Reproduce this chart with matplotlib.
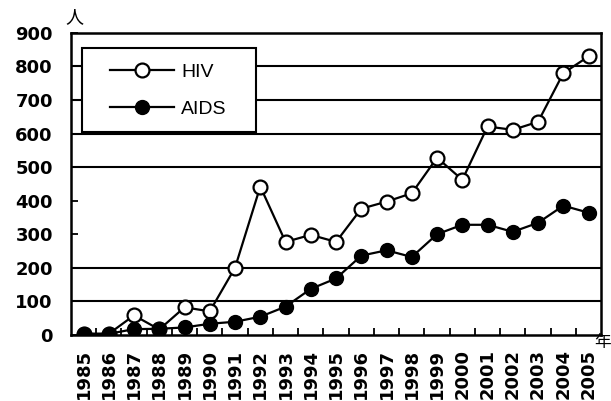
import matplotlib
matplotlib.use('Agg')
import matplotlib.pyplot as plt
from matplotlib.patches import Rectangle
import numpy as np

years = [str(y) for y in range(1985, 2006)]
hiv = [3, 3, 58, 16, 82, 70, 200, 442, 277, 298, 277, 376, 397, 422, 528, 462, 621, 611, 635, 780, 830]
aids = [3, 3, 17, 18, 22, 33, 39, 54, 84, 137, 168, 236, 252, 232, 300, 328, 328, 307, 334, 385, 364]
y_ticks = [0, 100, 200, 300, 400, 500, 600, 700, 800, 900]
grid_levels = [100, 200, 500, 600, 700, 800]

plt.rcParams['font.family'] = ['Liberation Sans', 'Noto Sans CJK JP', 'DejaVu Sans']

fig = plt.figure(figsize=(6.11, 4.01), dpi=100)
ax = fig.add_axes([0.116, 0.165, 0.868, 0.753])

x = np.arange(len(years))

# grid lines (only some levels visible in the original)
for g in grid_levels:
    ax.axhline(g, color='black', linewidth=1.5, zorder=1)

ax.plot(x, hiv, color='black', linewidth=1.6, marker='o', markersize=10,
        markerfacecolor='white', markeredgecolor='black', markeredgewidth=1.6,
        label='HIV', zorder=3)
ax.plot(x, aids, color='black', linewidth=1.6, marker='o', markersize=10,
        markerfacecolor='black', markeredgecolor='black',
        label='AIDS', zorder=4)

ax.set_xlim(-0.5, len(years) - 0.5)
ax.set_ylim(0, 900)
ax.set_yticks(y_ticks)
ax.set_yticklabels([str(v) for v in y_ticks], fontsize=13, fontweight='bold',
                   family='DejaVu Sans')
ax.set_xticks(x)
ax.set_xticklabels(years, rotation=90, fontsize=13, fontweight='bold',
                   family='DejaVu Sans')
ax.set_xticks(x[:-1] + 0.5, minor=True)
ax.tick_params(axis='x', which='major', length=0, pad=10)
ax.tick_params(axis='x', which='minor', direction='in', length=5, width=1.3)
ax.tick_params(axis='y', direction='in', length=5, width=1.3, pad=13)

for s in ax.spines.values():
    s.set_linewidth(1.8)

# legend box drawn by hand, legend itself frameless
ax.add_patch(Rectangle((0.021, 0.672), 0.328, 0.278, transform=ax.transAxes,
                       facecolor='white', edgecolor='black', linewidth=1.5,
                       zorder=5))
leg = ax.legend(loc='center left', bbox_to_anchor=(0.0736, 0.808), fontsize=14,
                frameon=False, borderpad=0, labelspacing=1.0,
                handlelength=3.3, handletextpad=0.35, borderaxespad=0)
leg.set_zorder(6)

# unit labels
fig.text(0.122, 0.955, '人', fontsize=13, ha='center', va='center')
fig.text(0.986, 0.145, '年', fontsize=12, ha='center', va='center')

plt.savefig('out.png', dpi=100)
